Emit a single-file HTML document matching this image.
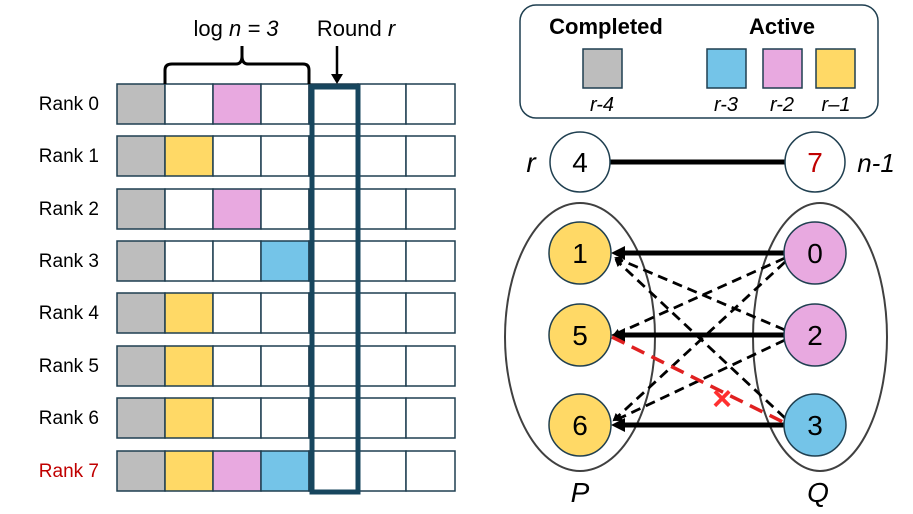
<!DOCTYPE html>
<html><head><meta charset="utf-8"><style>html,body{margin:0;padding:0;background:#fff}svg{display:block}</style></head><body>
<svg width="913" height="514" viewBox="0 0 913 514" xmlns="http://www.w3.org/2000/svg" font-family="Liberation Sans, sans-serif">
<defs>
<marker id="ah" markerWidth="8" markerHeight="8" refX="6" refY="4" orient="auto" markerUnits="userSpaceOnUse"><path d="M0,0 L8,4 L0,8 z" fill="#000"/></marker>
</defs>
<g font-size="19" text-anchor="end" fill="#000">
<text x="99" y="110">Rank 0</text><text x="99" y="162">Rank 1</text><text x="99" y="215">Rank 2</text><text x="99" y="267">Rank 3</text>
<text x="99" y="319">Rank 4</text><text x="99" y="372">Rank 5</text><text x="99" y="424">Rank 6</text><text x="99" y="477" fill="#c00000">Rank 7</text>
</g>
<g stroke="#1f3f50" stroke-width="1.5">
<rect x="117" y="84" width="48" height="40" fill="#bdbdbd"/><rect x="165" y="84" width="48" height="40" fill="#fff"/><rect x="213" y="84" width="48" height="40" fill="#e8a9e0"/><rect x="261" y="84" width="48" height="40" fill="#fff"/><rect x="309" y="84" width="49" height="40" fill="#fff"/><rect x="358" y="84" width="48" height="40" fill="#fff"/><rect x="406" y="84" width="49" height="40" fill="#fff"/>
<rect x="117" y="136" width="48" height="40" fill="#bdbdbd"/><rect x="165" y="136" width="48" height="40" fill="#ffd966"/><rect x="213" y="136" width="48" height="40" fill="#fff"/><rect x="261" y="136" width="48" height="40" fill="#fff"/><rect x="309" y="136" width="49" height="40" fill="#fff"/><rect x="358" y="136" width="48" height="40" fill="#fff"/><rect x="406" y="136" width="49" height="40" fill="#fff"/>
<rect x="117" y="189" width="48" height="40" fill="#bdbdbd"/><rect x="165" y="189" width="48" height="40" fill="#fff"/><rect x="213" y="189" width="48" height="40" fill="#e8a9e0"/><rect x="261" y="189" width="48" height="40" fill="#fff"/><rect x="309" y="189" width="49" height="40" fill="#fff"/><rect x="358" y="189" width="48" height="40" fill="#fff"/><rect x="406" y="189" width="49" height="40" fill="#fff"/>
<rect x="117" y="241" width="48" height="40" fill="#bdbdbd"/><rect x="165" y="241" width="48" height="40" fill="#fff"/><rect x="213" y="241" width="48" height="40" fill="#fff"/><rect x="261" y="241" width="48" height="40" fill="#74c4e8"/><rect x="309" y="241" width="49" height="40" fill="#fff"/><rect x="358" y="241" width="48" height="40" fill="#fff"/><rect x="406" y="241" width="49" height="40" fill="#fff"/>
<rect x="117" y="293" width="48" height="40" fill="#bdbdbd"/><rect x="165" y="293" width="48" height="40" fill="#ffd966"/><rect x="213" y="293" width="48" height="40" fill="#fff"/><rect x="261" y="293" width="48" height="40" fill="#fff"/><rect x="309" y="293" width="49" height="40" fill="#fff"/><rect x="358" y="293" width="48" height="40" fill="#fff"/><rect x="406" y="293" width="49" height="40" fill="#fff"/>
<rect x="117" y="346" width="48" height="40" fill="#bdbdbd"/><rect x="165" y="346" width="48" height="40" fill="#ffd966"/><rect x="213" y="346" width="48" height="40" fill="#fff"/><rect x="261" y="346" width="48" height="40" fill="#fff"/><rect x="309" y="346" width="49" height="40" fill="#fff"/><rect x="358" y="346" width="48" height="40" fill="#fff"/><rect x="406" y="346" width="49" height="40" fill="#fff"/>
<rect x="117" y="398" width="48" height="40" fill="#bdbdbd"/><rect x="165" y="398" width="48" height="40" fill="#ffd966"/><rect x="213" y="398" width="48" height="40" fill="#fff"/><rect x="261" y="398" width="48" height="40" fill="#fff"/><rect x="309" y="398" width="49" height="40" fill="#fff"/><rect x="358" y="398" width="48" height="40" fill="#fff"/><rect x="406" y="398" width="49" height="40" fill="#fff"/>
<rect x="117" y="451" width="48" height="40" fill="#bdbdbd"/><rect x="165" y="451" width="48" height="40" fill="#ffd966"/><rect x="213" y="451" width="48" height="40" fill="#e8a9e0"/><rect x="261" y="451" width="48" height="40" fill="#74c4e8"/><rect x="309" y="451" width="49" height="40" fill="#fff"/><rect x="358" y="451" width="48" height="40" fill="#fff"/><rect x="406" y="451" width="49" height="40" fill="#fff"/>
</g>
<rect x="312" y="87" width="46" height="405" fill="none" stroke="#17465e" stroke-width="5"/>
<path d="M165,84 L165,70 Q165,64 172,64 L236,64 Q242,64 242,56 L242,46 M242,56 Q242,64 248,64 L303,64 Q309,64 309,70 L309,84" fill="none" stroke="#000" stroke-width="3"/>
<text x="236" y="36" font-size="22" text-anchor="middle">log <tspan font-style="italic">n = 3</tspan></text>
<text x="356" y="36" font-size="22" text-anchor="middle">Round <tspan font-style="italic">r</tspan></text>
<line x1="337" y1="46" x2="337" y2="76" stroke="#000" stroke-width="2.5"/>
<path d="M331,74 L343,74 L337,84 z" fill="#000"/>
<rect x="520" y="5" width="358" height="113" rx="16" fill="#fff" stroke="#1f3f50" stroke-width="1.5"/>
<text x="606" y="34" font-size="22" font-weight="bold" text-anchor="middle">Completed</text>
<text x="782" y="34" font-size="22" font-weight="bold" text-anchor="middle">Active</text>
<g stroke="#1f3f50" stroke-width="1.5">
<rect x="583" y="49" width="39" height="39" fill="#bdbdbd"/>
<rect x="707" y="49" width="39" height="39" fill="#74c4e8"/>
<rect x="763" y="49" width="39" height="39" fill="#e8a9e0"/>
<rect x="816" y="49" width="39" height="39" fill="#ffd966"/>
</g>
<g font-size="20" font-style="italic" text-anchor="middle">
<text x="602" y="111">r-4</text><text x="726" y="111">r-3</text><text x="782" y="111">r-2</text><text x="836" y="111">r–1</text>
</g>
<line x1="610" y1="162" x2="785" y2="162" stroke="#000" stroke-width="5"/>
<circle cx="580" cy="162" r="30" fill="#fff" stroke="#1f3f50" stroke-width="1.5"/>
<circle cx="815" cy="162" r="30" fill="#fff" stroke="#1f3f50" stroke-width="1.5"/>
<text x="580" y="172" font-size="28" text-anchor="middle">4</text>
<text x="815" y="172" font-size="28" text-anchor="middle" fill="#c00000">7</text>
<text x="531" y="172" font-size="28" font-style="italic" text-anchor="middle">r</text>
<text x="876" y="172" font-size="26" font-style="italic" text-anchor="middle">n-1</text>
<ellipse cx="580" cy="337" rx="75" ry="134" fill="none" stroke="#404040" stroke-width="2"/>
<ellipse cx="820" cy="337" rx="67" ry="134" fill="none" stroke="#404040" stroke-width="2"/>
<text x="580" y="502" font-size="28" font-style="italic" text-anchor="middle">P</text>
<text x="818" y="502" font-size="28" font-style="italic" text-anchor="middle">Q</text>
<g stroke="#000" stroke-width="2.8" stroke-dasharray="10,6" fill="none" marker-end="url(#ah)">
<line x1="785" y1="258" x2="614" y2="335"/>
<line x1="785" y1="262" x2="614" y2="420"/>
<line x1="785" y1="330" x2="616" y2="258"/>
<line x1="785" y1="340" x2="616" y2="420"/>
<line x1="785" y1="418" x2="616" y2="260"/>
</g>
<g stroke="#000" stroke-width="5" fill="none">
<line x1="785" y1="253" x2="620" y2="253"/>
<line x1="785" y1="335" x2="620" y2="335"/>
<line x1="785" y1="425" x2="620" y2="425"/>
</g>
<g fill="#000">
<path d="M611,253 L625,246 L625,260 z"/><path d="M611,335 L625,328 L625,342 z"/><path d="M611,425 L625,418 L625,432 z"/>
</g>
<line x1="612" y1="337" x2="783" y2="422" stroke="#e02020" stroke-width="3.5" stroke-dasharray="14,8"/>
<text x="722" y="410" font-size="34" fill="#ff3030" text-anchor="middle" font-weight="bold">×</text>
<g stroke="#1f3f50" stroke-width="1.5">
<circle cx="580" cy="253" r="31" fill="#ffd966"/><circle cx="580" cy="335" r="31" fill="#ffd966"/><circle cx="580" cy="425" r="31" fill="#ffd966"/>
<circle cx="815" cy="253" r="31" fill="#e8a9e0"/><circle cx="815" cy="335" r="31" fill="#e8a9e0"/><circle cx="815" cy="425" r="31" fill="#74c4e8"/>
</g>
<g font-size="28" text-anchor="middle">
<text x="580" y="263">1</text><text x="580" y="345">5</text><text x="580" y="435">6</text>
<text x="815" y="263">0</text><text x="815" y="345">2</text><text x="815" y="435">3</text>
</g>
</svg>
</body></html>
